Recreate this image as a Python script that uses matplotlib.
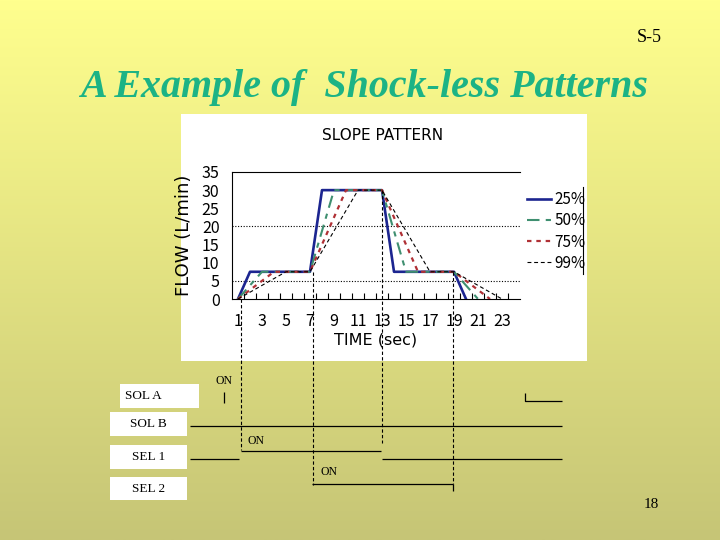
import numpy as np
import matplotlib
matplotlib.use("Agg")
import matplotlib.pyplot as plt
from matplotlib.patches import Rectangle

# ---------------- data ----------------
time = list(range(1, 25))
nan = np.nan
flow_25 = [0, 7.5, 7.5, 7.5, 7.5, 7.5, 7.5, 30, 30, 30, 30, 30, 30, 7.5, 7.5, 7.5, 7.5, 7.5, 7.5, 0,
           nan, nan, nan, nan]
flow_50 = [0, 3.75, 7.5, 7.5, 7.5, 7.5, 7.5, 18.75, 30, 30, 30, 30, 30, 18.75, 7.5, 7.5, 7.5, 7.5, 7.5,
           3.75, 0, nan, nan, nan]
flow_75 = [0, 2.5, 5, 7.5, 7.5, 7.5, 7.5, 15, 22.5, 30, 30, 30, 30, 22.5, 15, 7.5, 7.5, 7.5, 7.5,
           5, 2.5, 0, nan, nan]
flow_99 = [0, 1.875, 3.75, 5.625, 7.5, 7.5, 7.5, 13.125, 18.75, 24.375, 30, 30, 30, 24.375, 18.75,
           13.125, 7.5, 7.5, 7.5, 5.625, 3.75, 1.875, 0, nan]
series_labels = ["25%", "50%", "75%", "99%"]
x_tick_values = [1, 3, 5, 7, 9, 11, 13, 15, 17, 19, 21, 23]
y_tick_values = [0, 5, 10, 15, 20, 25, 30, 35]
grid_levels = [5, 20]

# timing diagram (times in seconds)
diagram_start, diagram_end = -3.0, 28.0
sol_a_on, sol_a_off = -0.15, 24.9
sel1_on, sel1_off = 1.25, 12.9
sel2_on, sel2_off = 7.2, 18.95
marker_times = [1.25, 7.25, 13.0, 18.95]
marker_flows = [0, 7.5, 30, 7.5]
signal_names = ["SOL A", "SOL B", "SEL 1", "SEL 2"]

# ---------------- figure ----------------
W, H = 720, 540
fig = plt.figure(figsize=(7.2, 5.4), dpi=100)

bg = fig.add_axes([0, 0, 1, 1], zorder=0)
bg.set_xlim(0, W)
bg.set_ylim(H, 0)
bg.axis("off")
grad = np.linspace(0, 1, 256)[:, None]
top_c = np.array([255, 255, 142]) / 255
bot_c = np.array([198, 197, 118]) / 255
img = top_c[None, None, :] * (1 - grad[:, :, None]) + bot_c[None, None, :] * grad[:, :, None]
bg.imshow(img, extent=[0, W, H, 0], aspect="auto", zorder=0)

serif = ["Liberation Serif", "DejaVu Serif"]
narrow = ["Noto Sans CJK JP", "DejaVu Sans"]

# slide texts
bg.text(649, 38, "S-5", fontsize=13, family=serif, ha="center", va="center", color="black")
bg.text(364, 97, "A Example of  Shock-less Patterns", fontsize=28.8, family=serif,
        fontweight="bold", fontstyle="italic", color="#1CB385", ha="center", va="baseline")
bg.text(651, 505, "18", fontsize=11, family=serif, ha="center", va="center", color="black")

# chart panel (white)
bg.add_patch(Rectangle((181, 114), 406, 247, facecolor="white", edgecolor="none", zorder=1))
bg.plot([583, 583], [187, 274], color="black", lw=0.8, zorder=2)

# signal label boxes
boxes = [(120, 384, 79, 24), (110, 412, 77, 24), (110, 445, 77, 24), (110, 477, 77, 23)]
for (bx, by, bw, bh), name in zip(boxes, signal_names):
    bg.add_patch(Rectangle((bx, by), bw, bh, facecolor="white", edgecolor="none", zorder=1))
    if name == "SOL A":
        bg.text(125, by + bh / 2, name, fontsize=9.5, family=serif, ha="left", va="center", zorder=2)
    else:
        bg.text(bx + bw / 2, by + bh / 2, name, fontsize=9.5, family=serif, ha="center",
                va="center", zorder=2)

# ---------------- chart ----------------
ax = fig.add_axes([232 / W, 1 - 299 / H, 288 / W, 127 / H], zorder=1)
ax.set_facecolor("none")
ax.set_xlim(0.5, 24.5)
ax.set_ylim(0, 35)

styles = [
    dict(color="#1C2590", lw=1.9, linestyle="-"),
    dict(color="#3F8F70", lw=1.5, linestyle=(0, (6, 3, 2.5, 3))),
    dict(color="#B03035", lw=1.6, linestyle=(0, (2, 2.2))),
    dict(color="black", lw=0.8, linestyle=(0, (3.5, 2.5))),
]
handles = []
for vals, lab, st in zip([flow_25, flow_50, flow_75, flow_99], series_labels, styles):
    h, = ax.plot(time, vals, label=lab, zorder=3, **st)
    handles.append(h)

for g in grid_levels:
    ax.axhline(g, color="black", lw=0.8, linestyle=(0, (1, 1.5)), zorder=1)

for side in ["left", "bottom", "top"]:
    ax.spines[side].set_linewidth(0.8)
    ax.spines[side].set_color("black")
ax.spines["right"].set_visible(False)

ax.set_xticks(x_tick_values)
ax.set_xticks(np.arange(1.5, 24.5, 1), minor=True)
ax.set_yticks(y_tick_values)
ax.tick_params(axis="x", which="major", length=0, pad=10)
ax.tick_params(axis="x", which="minor", direction="in", length=4, width=0.8)
ax.tick_params(axis="y", which="both", length=0, pad=9)
for lbl in ax.get_xticklabels() + ax.get_yticklabels():
    lbl.set_family(narrow)
    lbl.set_fontsize(11.5)

ax.set_ylabel("FLOW (L/min)", fontsize=13, family=["DejaVu Sans"], labelpad=6)
ax.set_xlabel("TIME (sec)", fontsize=11.5, family=["DejaVu Sans"], labelpad=2)
bg.text(383, 135, "SLOPE PATTERN", fontsize=11, family=["DejaVu Sans"], ha="center",
        va="center", zorder=3)

ax.legend(handles=handles, loc="upper left", bbox_to_anchor=(527 / W, 1 - 191 / H),
          bbox_transform=fig.transFigure, frameon=False, borderpad=0, borderaxespad=0,
          handlelength=1.6, handletextpad=0.2, labelspacing=0.28,
          prop=dict(family=narrow, size=11))

# ---------------- timing diagram ----------------
tax = fig.add_axes([232 / W, 0, 288 / W, 1], zorder=2)
tax.set_xlim(0.5, 24.5)
tax.set_ylim(H, 0)
tax.axis("off")
tax.patch.set_alpha(0)

kw = dict(color="black", lw=0.9, clip_on=False, solid_capstyle="butt")
# SOL A
tax.plot([sol_a_on, sol_a_on], [392, 403], **kw)
tax.plot([sol_a_off, sol_a_off, diagram_end], [393, 401, 401], **kw)
tax.text(sol_a_on, 381, "ON", fontsize=8.5, family=serif, ha="center", va="center")
# SOL B
tax.plot([diagram_start, diagram_end], [426, 426], **kw)
# SEL 1
tax.plot([diagram_start, sel1_on - 0.15], [459, 459], **kw)
tax.plot([sel1_on, sel1_off], [451, 451], **kw)
tax.plot([sel1_off + 0.1, diagram_end], [459, 459], **kw)
tax.text(sel1_on + 1.25, 441, "ON", fontsize=8.5, family=serif, ha="center", va="center")
# SEL 2
tax.plot([sel2_on, sel2_off], [484, 484], **kw)
tax.plot([sel2_off, sel2_off], [484, 491], **kw)
tax.text(sel2_on + 1.35, 472, "ON", fontsize=8.5, family=serif, ha="center", va="center")

# vertical dashed marker lines from the chart down to the diagram
marker_ends = [450, 485, 443, 484]
inv = tax.transData.inverted()
for t, f, yend in zip(marker_times, marker_flows, marker_ends):
    disp = ax.transData.transform((t, f))
    ystart = inv.transform(disp)[1]
    tax.plot([t, t], [ystart, yend], color="black", lw=0.8, linestyle=(0, (3, 2)),
             clip_on=False)

fig.savefig("out.png", dpi=100)
